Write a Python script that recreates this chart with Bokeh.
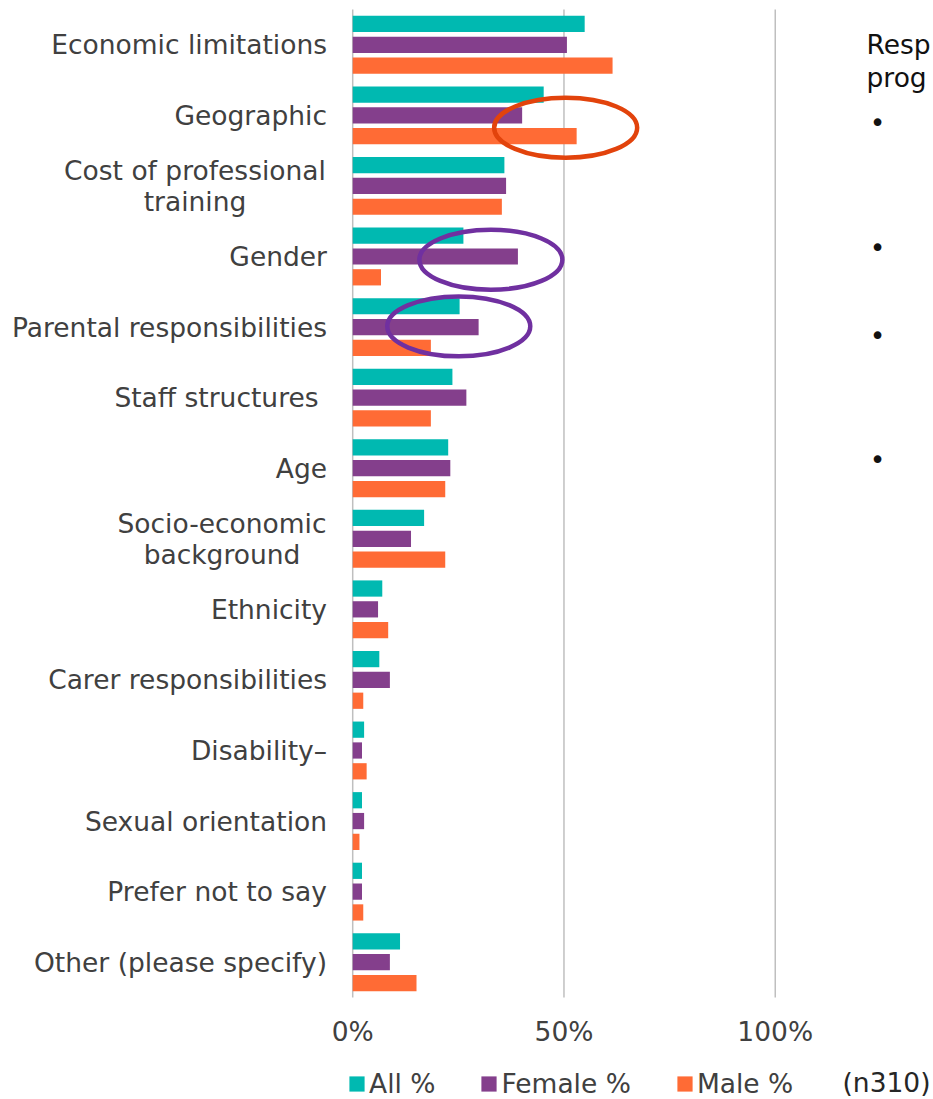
from bokeh.plotting import figure
from bokeh.models import Range1d, Label, Legend, LegendItem, ColumnDataSource
from bokeh.transform import dodge
from bokeh.embed import file_html
from bokeh.resources import INLINE

# ---------------- data ----------------
categories = [
    "Economic limitations", "Geographic", "Cost of professional\ntraining", "Gender",
    "Parental responsibilities", "Staff structures ", "Age", "Socio-economic\nbackground",
    "Ethnicity", "Carer responsibilities", "Disability\u2013", "Sexual orientation",
    "Prefer not to say", "Other (please specify)",
]
all_pct = [54.9, 45.2, 35.9, 26.2, 25.3, 23.6, 22.6, 16.9, 7.0, 6.3, 2.7, 2.2, 2.2, 11.2]
female_pct = [50.7, 40.1, 36.3, 39.1, 29.8, 26.9, 23.1, 13.8, 6.0, 8.8, 2.2, 2.7, 2.2, 8.8]
male_pct = [61.5, 53.0, 35.3, 6.7, 18.5, 18.5, 21.9, 21.9, 8.4, 2.5, 3.3, 1.6, 2.5, 15.1]
series_names = ["All %", "Female %", "Male %"]
tick_values = [0, 50, 100]
tick_labels = ["0%", "50%", "100%"]
sample_note = "(n310)"
side_lines = ["Resp", "prog"]

# ---------------- styling / layout ----------------
TEAL, PURPLE, ORANGE = "#00B9B1", "#843F8C", "#FF6B35"
RING_ORANGE, RING_PURPLE = "#E2430C", "#7030A0"
TXT = "#404040"
FONT = "DejaVu Sans"
FS = "26.5px"

W, H = 933, 1099
X0_PX, PX_PER_X = 352.2, 4.2255      # pixel x of 0 %, pixels per 1 %
Y0_PX, PX_PER_Y = 9.0, 70.57         # pixel y of top of plot area, pixels per category
N = len(categories)


def dx(px):
    return (px - X0_PX) / PX_PER_X


def dy(py):
    return -0.5 + (py - Y0_PX) / PX_PER_Y


p = figure(width=W, height=H, title=None,
           x_range=Range1d(dx(0), dx(W)), y_range=Range1d(dy(H), dy(0)),
           output_backend="svg", toolbar_location=None,
           x_axis_location=None, y_axis_location=None,
           min_border=0, min_border_left=0, min_border_right=0,
           min_border_top=0, min_border_bottom=0)
p.outline_line_color = None
p.background_fill_color = "white"
p.border_fill_color = "white"
p.xgrid.visible = False
p.ygrid.visible = False

# vertical grid lines at the tick values
p.segment(x0=tick_values, x1=tick_values, y0=[-0.5] * len(tick_values), y1=[N - 0.5] * len(tick_values),
          line_color="#BFBFBF", line_width=1.5)

src = ColumnDataSource(dict(y=list(range(N)), a=all_pct, f=female_pct, m=male_pct))
BAR_H = 0.23
OFF = 0.295
r1 = p.hbar(y=dodge("y", -OFF), left=0, right="a", height=BAR_H, source=src,
            fill_color=TEAL, line_color=None)
r2 = p.hbar(y="y", left=0, right="f", height=BAR_H, source=src,
            fill_color=PURPLE, line_color=None)
r3 = p.hbar(y=dodge("y", OFF), left=0, right="m", height=BAR_H, source=src,
            fill_color=ORANGE, line_color=None)

# highlight rings (annotation layout)
p.ellipse(x=[50.4], y=[1.175], width=143, height=60, width_units="screen", height_units="screen",
          fill_color=None, line_color=RING_ORANGE, line_width=4.5)
p.ellipse(x=[32.7, 25.1], y=[3.045, 3.99], width=143, height=60, width_units="screen",
          height_units="screen", fill_color=None, line_color=RING_PURPLE, line_width=4.5)

# x tick labels
for v, t in zip(tick_values, tick_labels):
    p.add_layout(Label(x=v, y=dy(1031), text=t, text_align="center", text_baseline="middle",
                       text_font=FONT, text_font_size=FS, text_color=TXT))

# category labels
two_line_centers = {2: 194.5, 7: 221.5}
for i, cat in enumerate(categories):
    lines = cat.split("\n")
    if len(lines) == 1:
        p.add_layout(Label(x=dx(326.5), y=i, text=cat, text_align="right", text_baseline="middle",
                           text_font=FONT, text_font_size=FS, text_color=TXT))
    else:
        cx = dx(two_line_centers[i])
        for k, ln in enumerate(lines):
            p.add_layout(Label(x=cx, y=i, y_offset=15.5 - 31 * k, text=ln, text_align="center",
                               text_baseline="middle", text_font=FONT, text_font_size=FS,
                               text_color=TXT))

legend = Legend(items=[LegendItem(label=n, renderers=[r]) for n, r in zip(series_names, [r1, r2, r3])],
                orientation="horizontal", location=(347, 0), glyph_width=19, glyph_height=19,
                label_standoff=3, spacing=44, padding=0, margin=0, border_line_color=None,
                background_fill_alpha=0, label_text_font=FONT, label_text_font_size=FS,
                label_text_color=TXT, label_height=19)
p.add_layout(legend)

p.add_layout(Label(x=dx(842), y=dy(1082), text=sample_note, text_align="left",
                   text_baseline="middle", text_font=FONT, text_font_size=FS, text_color="#262626"))

for k, ln in enumerate(side_lines):
    p.add_layout(Label(x=dx(866), y=dy(44 + 33 * k), text=ln, text_align="left",
                       text_baseline="alphabetic", text_font=FONT, text_font_size=FS,
                       text_color="#111111"))
for by in [122, 247, 335, 459]:
    p.add_layout(Label(x=dx(877), y=dy(by), text="\u2022", text_align="center", text_baseline="middle",
                       text_font=FONT, text_font_size=FS, text_color="#111111"))

open("out.html", "w").write(file_html(p, INLINE))
